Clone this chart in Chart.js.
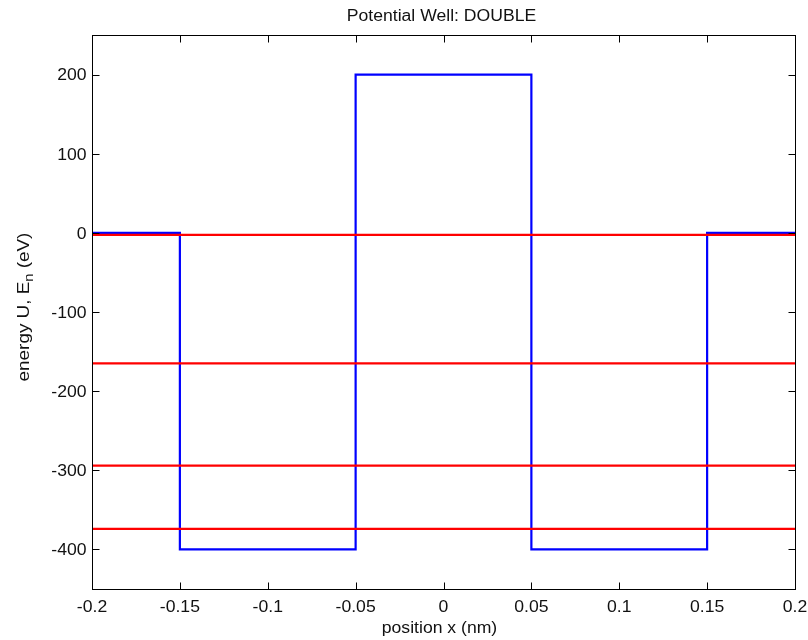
<!DOCTYPE html>
<html><head><meta charset="utf-8">
<script src="https://cdn.jsdelivr.net/npm/chart.js@4/dist/chart.umd.min.js"></script>
<style>html,body{margin:0;padding:0;background:#fff}#wrap{width:808px;height:640px}</style>
</head><body><div id="wrap"><canvas id="c" width="808" height="640"></canvas></div>
<script>
// ---- data ----
const chartTitle = 'Potential Well: DOUBLE';
const xTitle = 'position x (nm)';
const yTitleMain = 'energy U, E';
const yTitleSub = 'n';
const yTitleEnd = ' (eV)';
const wellEdges = [-0.2, -0.15, -0.05, 0.05, 0.15, 0.2];
const wellPotential = [0, -400, 200, -400, 0];
const energyLevels = [-2.5, -165, -294, -374];
const xTicks = [-0.2, -0.15, -0.1, -0.05, 0, 0.05, 0.1, 0.15, 0.2];
const xTickLabels = ['-0.2', '-0.15', '-0.1', '-0.05', '0', '0.05', '0.1', '0.15', '0.2'];
const yTicks = [-400, -300, -200, -100, 0, 100, 200];
const yTickLabels = ['-400', '-300', '-200', '-100', '0', '100', '200'];
const xRange = [-0.2, 0.2];
const yRange = [-450, 250];

// ---- build datasets ----
const potentialPoints = [];
for (let i = 0; i < wellPotential.length; i++) {
  potentialPoints.push({x: wellEdges[i], y: wellPotential[i]});
  potentialPoints.push({x: wellEdges[i + 1], y: wellPotential[i]});
}
const datasets = [{
  label: 'U', data: potentialPoints, borderColor: '#0000ff', borderWidth: 2.2,
  pointRadius: 0, tension: 0, order: 1
}];
energyLevels.forEach((e, i) => {
  datasets.push({
    label: 'E' + (i + 1), data: [{x: xRange[0], y: e}, {x: xRange[1], y: e}],
    borderColor: '#ff0000', borderWidth: 2.2, pointRadius: 0, tension: 0, order: 0
  });
});

const FONT = '"Liberation Sans", Arial, Helvetica, sans-serif';
const FS = 16;
const SX = 1.1;

function txt(ctx, s, x, y, align, size) {
  ctx.save();
  ctx.font = (size || FS) + 'px ' + FONT;
  ctx.textBaseline = 'alphabetic';
  ctx.textAlign = align;
  ctx.translate(x, y);
  ctx.scale(SX, 1);
  ctx.fillText(s, 0, 0);
  ctx.restore();
}

const matlabAxes = {
  id: 'matlabAxes',
  afterDraw(chart) {
    const ctx = chart.ctx;
    const a = chart.chartArea;
    const xs = chart.scales.x, ys = chart.scales.y;
    const L = Math.round(a.left) + 0.5, R = Math.round(a.right) + 0.5;
    const T = Math.round(a.top) + 0.5, B = Math.round(a.bottom) + 0.5;
    ctx.save();
    ctx.strokeStyle = '#000';
    ctx.lineWidth = 1;
    ctx.strokeRect(L, T, R - L, B - T);
    const tl = 7;
    ctx.beginPath();
    xTicks.forEach(v => {
      const px = Math.round(xs.getPixelForValue(v)) + 0.5;
      ctx.moveTo(px, B); ctx.lineTo(px, B - tl);
      ctx.moveTo(px, T); ctx.lineTo(px, T + tl);
    });
    yTicks.forEach(v => {
      const py = Math.round(ys.getPixelForValue(v)) + 0.5;
      ctx.moveTo(L, py); ctx.lineTo(L + tl, py);
      ctx.moveTo(R, py); ctx.lineTo(R - tl, py);
    });
    ctx.stroke();
    ctx.fillStyle = '#111';
    xTicks.forEach((v, i) => {
      txt(ctx, xTickLabels[i], xs.getPixelForValue(v), 611.5, 'center');
    });
    yTicks.forEach((v, i) => {
      txt(ctx, yTickLabels[i], 86.5, ys.getPixelForValue(v) + 5.8, 'right');
    });
    const cx = (a.left + a.right) / 2;
    txt(ctx, chartTitle, cx - 2, 21, 'center');
    txt(ctx, xTitle, cx - 4, 633, 'center');
    // y title with subscript
    ctx.save();
    const cy = (a.top + a.bottom) / 2 - 5;
    ctx.translate(29, cy);
    ctx.rotate(-Math.PI / 2);
    ctx.scale(1.18, 1);
    ctx.textBaseline = 'alphabetic';
    ctx.textAlign = 'left';
    ctx.font = FS + 'px ' + FONT;
    const w1 = ctx.measureText(yTitleMain).width;
    const w3 = ctx.measureText(yTitleEnd).width;
    ctx.font = (FS * 0.78) + 'px ' + FONT;
    const w2 = ctx.measureText(yTitleSub).width;
    let x0 = -(w1 + w2 + w3) / 2;
    ctx.font = FS + 'px ' + FONT;
    ctx.fillText(yTitleMain, x0, 0);
    ctx.font = (FS * 0.78) + 'px ' + FONT;
    ctx.fillText(yTitleSub, x0 + w1, 4);
    ctx.font = FS + 'px ' + FONT;
    ctx.fillText(yTitleEnd, x0 + w1 + w2, 0);
    ctx.restore();
    ctx.restore();
  }
};

new Chart(document.getElementById('c'), {
  type: 'line',
  data: {datasets},
  options: {
    responsive: false,
    animation: false,
    devicePixelRatio: 1,
    layout: {padding: {left: 0, right: 13, top: 35, bottom: 0}},
    plugins: {legend: {display: false}, title: {display: false}, tooltip: {enabled: false}},
    scales: {
      x: {
        type: 'linear', min: xRange[0], max: xRange[1],
        grid: {display: false, drawTicks: false}, border: {display: false},
        ticks: {display: false},
        afterFit(s) { s.height = 51; }
      },
      y: {
        type: 'linear', min: yRange[0], max: yRange[1],
        grid: {display: false, drawTicks: false}, border: {display: false},
        ticks: {display: false},
        afterFit(s) { s.width = 92; }
      }
    }
  },
  plugins: [matlabAxes]
});
</script>
</body></html>
